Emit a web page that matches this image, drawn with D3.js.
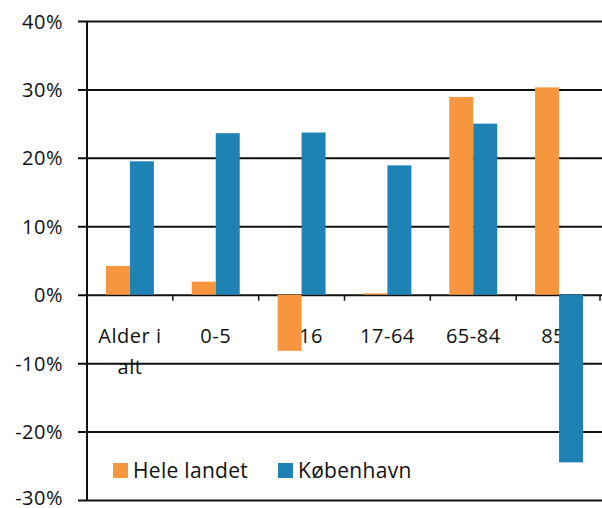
<!DOCTYPE html>
<html>
<head>
<meta charset="utf-8">
<script src="https://cdn.jsdelivr.net/npm/d3@7"></script>
<style>
  html, body { margin: 0; padding: 0; background: #fff; }
  svg { display: block; }
  text { font-family: "Open Sans", Lato, sans-serif; fill: #111; }
</style>
</head>
<body>
<script>
const categories = ["Alder i alt", "0-5", "6-16", "17-64", "65-84", "85+"];
const seriesNames = ["Hele landet", "København"];
const heleLandet = [4.2, 1.9, -8.2, 0.2, 28.9, 30.3];
const koebenhavn = [19.5, 23.6, 23.7, 18.9, 25.0, -24.5];
const yTicks = [-30, -20, -10, 0, 10, 20, 30, 40];
const colors = ["#F7963F", "#1F82B4"];

(function () {
const W = 602, H = 508;
const mLeft = 87, mRight = 602, mTop = 21, mBottom = 500;

const svg = d3.select("body").append("svg").attr("width", W).attr("height", H);

const y = d3.scaleLinear().domain([-30, 40]).range([mBottom, mTop]);
const x0 = d3.scaleBand().domain(categories).range([mLeft, mRight]).padding(0);
const x1 = d3.scaleBand().domain(seriesNames).range([0, x0.bandwidth()]).paddingInner(0).paddingOuter(0.79);

// gridlines + y axis labels
const yAxis = d3.axisLeft(y).tickValues(yTicks)
  .tickSize(0).tickPadding(0)
  .tickFormat(d => d + "%");
const gy = svg.append("g").call(yAxis);
gy.select(".domain").remove();
gy.selectAll(".tick line")
  .attr("x1", mLeft - 9).attr("x2", mRight)
  .attr("stroke", "#111").attr("stroke-width", 2);
gy.selectAll(".tick text")
  .attr("x", 63).attr("dy", d => d === -30 ? "0.2em" : "0.35em")
  .attr("font-size", 20).attr("font-weight", 500).attr("letter-spacing", 0.5).attr("fill", "#111");

// y axis line
svg.append("line").attr("x1", mLeft).attr("x2", mLeft).attr("y1", mTop).attr("y2", mBottom)
  .attr("stroke", "#111").attr("stroke-width", 2);

// boundary ticks on the zero line
const bounds = categories.slice(1).map(c => x0(c)).concat([mRight - 2]);
svg.append("g").selectAll("line").data(bounds).join("line")
  .attr("x1", d => d).attr("x2", d => d)
  .attr("y1", y(0)).attr("y2", y(0) + 6)
  .attr("stroke", "#111").attr("stroke-width", 1.5);

// category labels
const xAxis = d3.axisBottom(x0).tickSize(0).tickPadding(0);
const gx = svg.append("g").attr("transform", `translate(0,${y(0)})`).call(xAxis);
gx.select(".domain").remove();
gx.selectAll(".tick text").attr("font-size", 20).attr("font-weight", 500).attr("letter-spacing", 0.5).attr("fill", "#111")
  .attr("dy", null).attr("y", 0)
  .each(function(d) {
    const t = d3.select(this);
    t.text(null);
    const lines = d === "Alder i alt" ? ["Alder i", "alt"] : [d];
    lines.forEach((ln, i) => {
      t.append("tspan").attr("x", 0).attr("y", 48 + i * 31).text(ln);
    });
  });

// bars
const data = categories.map((c, i) => ({ cat: c, vals: [heleLandet[i], koebenhavn[i]] }));
const groups = svg.append("g").selectAll("g").data(data).join("g")
  .attr("transform", d => `translate(${x0(d.cat)},0)`);
groups.selectAll("rect").data(d => d.vals.map((v, i) => ({ s: seriesNames[i], v, i })))
  .join("rect")
  .attr("x", d => x1(d.s))
  .attr("width", x1.bandwidth())
  .attr("y", d => y(Math.max(0, d.v)))
  .attr("height", d => Math.abs(y(d.v) - y(0)))
  .attr("fill", d => colors[d.i]);

// legend
const legendX = [113, 278];
const lg = svg.append("g").selectAll("g").data(seriesNames).join("g")
  .attr("transform", (d, i) => `translate(${legendX[i]},463)`);
lg.append("rect").attr("width", 15).attr("height", 15).attr("fill", (d, i) => colors[i]);
lg.append("text").attr("x", 20).attr("y", 15).attr("font-size", 21).attr("font-weight", 500).attr("letter-spacing", 0.3).text(d => d);
})();
</script>
</body>
</html>
